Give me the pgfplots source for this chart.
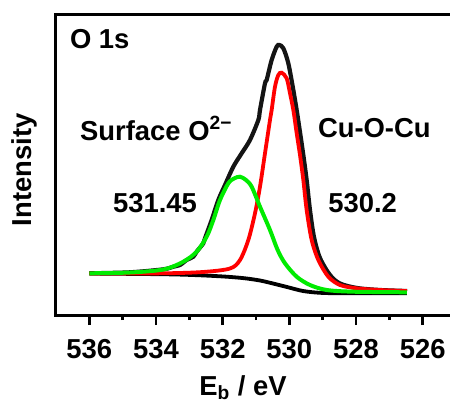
\documentclass[border=0pt]{standalone}
\usepackage{fontspec}
\setmainfont{Liberation Sans}
\usepackage{pgfplots}
\usepackage{pgfplotstable}
\pgfplotsset{compat=1.18}
\definecolor{fitred}{RGB}{255,0,0}
\definecolor{fitgreen}{RGB}{0,235,0}
\newcommand{\lblfont}{\fontsize{13.7}{16}\selectfont\bfseries}

\pgfplotstableread{
x y
536.00 41.7
534.78 42.7
533.78 45.7
533.48 48.3
533.28 50.0
533.08 55.0
532.88 58.3
532.78 63.3
532.58 71.7
532.53 76.7
532.33 95.0
532.13 115.0
531.93 130.0
531.68 148.3
531.43 161.7
531.18 175.0
530.93 195.0
530.88 205.0
530.73 231.7
530.68 235.0
530.53 255.0
530.38 268.3
530.30 270.0
530.18 266.7
530.03 251.7
529.88 225.0
529.78 205.0
529.68 183.0
529.58 160.0
529.48 135.0
529.38 105.0
529.26 78.0
529.08 57.0
528.78 40.0
528.48 31.5
527.97 27.0
527.28 25.0
526.47 24.0
}\envelope

\pgfplotstableread{
x y
536.00 41.5
533.78 41.7
532.59 43.0
531.78 46.5
531.48 55.0
531.23 75.0
531.03 101.7
530.88 128.3
530.73 161.7
530.58 195.0
530.53 205.0
530.43 228.3
530.33 240.0
530.23 242.3
530.08 236.7
529.98 221.7
529.88 205.0
529.78 182.0
529.68 160.0
529.58 135.0
529.48 105.0
529.33 75.0
529.13 55.0
528.83 38.3
528.48 30.0
527.98 26.7
527.28 25.0
526.47 24.0
}\redpeak

\pgfplotstableread{
x y
536.00 41.7
534.78 42.5
533.78 45.5
533.18 53.3
532.78 63.3
532.48 78.3
532.28 95.0
532.08 115.0
531.83 131.7
531.66 136.5
531.48 138.3
531.30 135.0
531.13 128.3
530.88 108.3
530.58 85.0
530.35 65.0
530.13 51.7
529.78 38.3
529.38 30.0
528.88 25.0
528.08 23.3
526.47 22.7
}\greenpeak

\pgfplotstableread{
x y
536.00 41.5
533.68 40.7
532.68 39.7
531.88 38.3
531.33 36.7
530.88 34.5
530.49 31.5
530.07 28.0
529.59 24.0
529.08 22.2
528.48 21.8
526.47 21.7
}\background

\begin{document}
\begin{tikzpicture}
\begin{axis}[
  scale only axis,
  width=200pt, height=150.5pt,
  x dir=reverse,
  xmin=525, xmax=537, ymin=0, ymax=301,
  xtick={526,528,530,532,534,536},
  minor xtick={527,529,531,533,535},
  xtick pos=bottom,
  ytick=\empty,
  tick align=outside,
  major tick length=5pt,
  minor tick length=2.6pt,
  tick style={black, line width=1.2pt},
  axis line style={line width=1.5pt},
  /pgf/number format/assume math mode=true,
  /pgf/number format/1000 sep={},
  xticklabel style={font=\lblfont, yshift=-3.5pt},
  xlabel={E\textsubscript{b} / eV},
  xlabel style={font=\lblfont, at={(axis description cs:0.4675,0)}, anchor=base, yshift=-40pt},
  clip=false,
]
\addplot[black, line width=1.9pt, smooth, tension=0.5] table {\background};
\addplot[black, line width=2.1pt, smooth, tension=0.5, opacity=0.92] table {\envelope};
\addplot[fitred, line width=1.9pt, smooth, tension=0.5] table {\redpeak};
\addplot[fitgreen, line width=2pt, smooth, tension=0.5] table {\greenpeak};
\node[font=\lblfont, anchor=west] at (axis cs:536.79,276) {O 1s};
\node[font=\lblfont] at (axis cs:533.99,186.7) {Surface O\textsuperscript{2−}};
\node[font=\lblfont] at (axis cs:527.45,186.7) {Cu-O-Cu};
\node[font=\lblfont] at (axis cs:534.03,111.7) {531.45};
\node[font=\lblfont] at (axis cs:527.80,111.7) {530.2};
\node[font=\lblfont, xshift=-12.2pt, rotate=90, anchor=base, inner sep=0pt] at (rel axis cs:0,0.482) {Intensity};
\end{axis}
\pgfresetboundingbox
\useasboundingbox (-28pt,-44pt) rectangle (197pt,157.5pt);
\end{tikzpicture}
\end{document}
